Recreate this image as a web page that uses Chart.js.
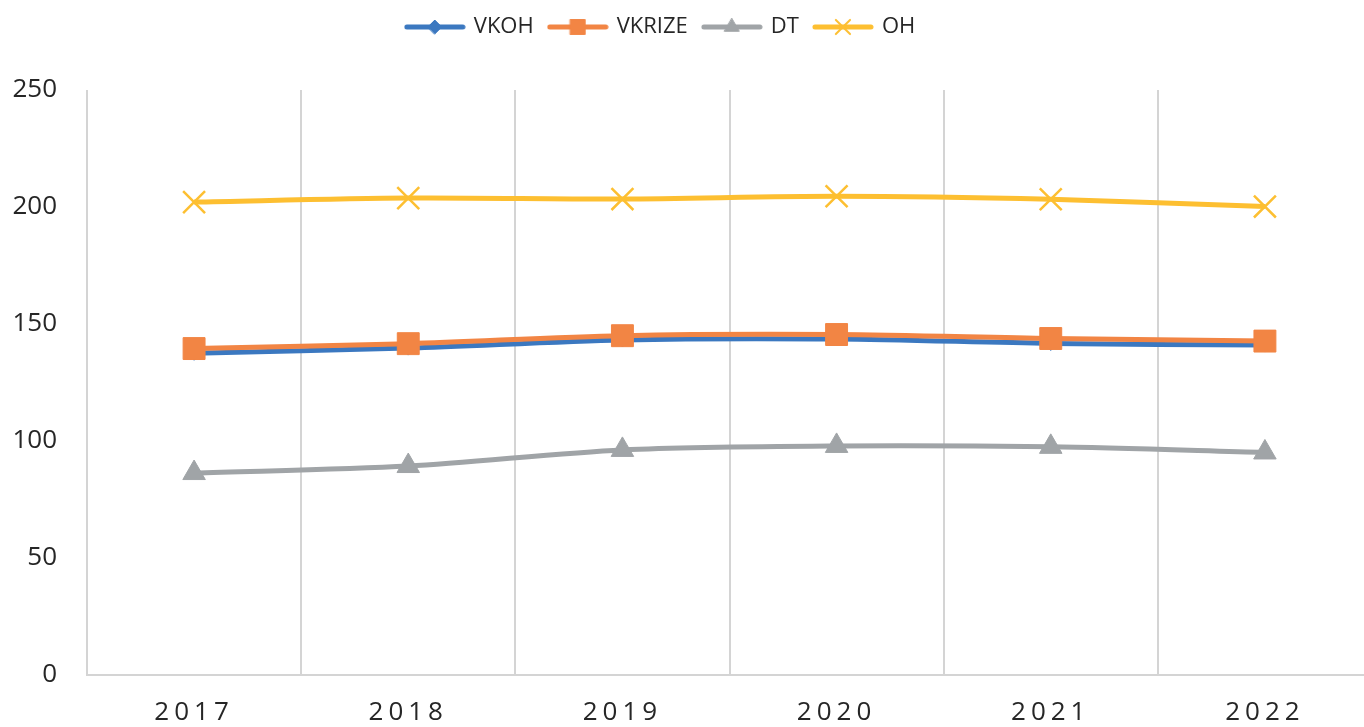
<!DOCTYPE html>
<html>
<head>
<meta charset="utf-8">
<script src="https://cdn.jsdelivr.net/npm/chart.js@4.4.1/dist/chart.umd.min.js"></script>
<style>
  body { margin: 0; background: #fff; overflow: hidden; }
  #wrap { width: 1364px; height: 727px; overflow: hidden; }
</style>
</head>
<body>
<div id="wrap"><canvas id="lineChart" width="1372" height="727"></canvas></div>
<script>
// Data
const years = ["2017", "2018", "2019", "2020", "2021", "2022"];
const vkoh = [137.5, 139.7, 143.2, 143.6, 141.7, 141.0];
const vkrize = [139.5, 141.6, 145.0, 145.5, 143.8, 142.7];
const dt = [86.3, 89.3, 96.2, 97.9, 97.5, 95.1];
const oh = [202.1, 203.8, 203.4, 204.6, 203.3, 200.2];
const yTicks = [0, 50, 100, 150, 200, 250];

const colors = {
    vkoh: "#3b78c0",
    vkrize: "#f28544",
    dt: "#a0a4a7",
    oh: "#fdbf31"
};
const gridColor = "#d4d4d4";

// legend icon: line with marker in the middle (like Excel)
function legendIcon(color, style, radius, markerBorder) {
    const c = document.createElement("canvas");
    c.width = 62;
    c.height = 24;
    const ctx = c.getContext("2d");
    ctx.strokeStyle = color;
    ctx.lineWidth = 5;
    ctx.lineCap = "round";
    ctx.beginPath();
    ctx.moveTo(3, 12);
    ctx.lineTo(59, 12);
    ctx.stroke();
    ctx.fillStyle = color;
    ctx.lineWidth = markerBorder;
    Chart.helpers.drawPoint(ctx, { pointStyle: style, radius: radius, rotation: 0, borderWidth: markerBorder }, 31, 12);
    return c;
}

// grow legend box so the plot starts lower, and pull it a bit to the left
const legendBox = {
    id: "legendBox",
    beforeInit(chart) {
        const fit = chart.legend.fit;
        chart.legend.fit = function () {
            fit.bind(chart.legend)();
            this.height = 90;
        };
    },
    afterLayout(chart) {
        chart.legend.right -= 50;
    }
};

// spaced-out year labels on the x axis
const spacedLabels = {
    id: "spacedLabels",
    beforeDraw(chart) {
        const xs = chart.scales.x;
        if (xs._spaced) return;
        const orig = xs.drawLabels.bind(xs);
        xs.drawLabels = function (area) {
            const ctx = chart.ctx;
            ctx.save();
            ctx.letterSpacing = "5px";
            orig(area);
            ctx.restore();
        };
        xs._spaced = true;
    }
};

const datasets = [
    {
        label: "VKOH",
        data: vkoh,
        borderColor: colors.vkoh,
        backgroundColor: colors.vkoh,
        pointStyle: "rectRot",
        pointRadius: 7,
        pointBorderWidth: 1,
        order: 1,
        icon: legendIcon(colors.vkoh, "rectRot", 7, 1)
    },
    {
        label: "VKRIZE",
        data: vkrize,
        borderColor: colors.vkrize,
        backgroundColor: colors.vkrize,
        pointStyle: "rect",
        pointRadius: 15.5,
        pointBorderWidth: 1,
        order: 0,
        icon: legendIcon(colors.vkrize, "rect", 10.5, 1)
    },
    {
        label: "DT",
        data: dt,
        borderColor: colors.dt,
        backgroundColor: colors.dt,
        pointStyle: "triangle",
        pointRadius: 13,
        pointBorderWidth: 1,
        order: 2,
        icon: legendIcon(colors.dt, "triangle", 8.5, 1)
    },
    {
        label: "OH",
        data: oh,
        borderColor: colors.oh,
        backgroundColor: colors.oh,
        pointStyle: "crossRot",
        pointRadius: 15.5,
        pointBorderWidth: 2.5,
        order: 3,
        icon: legendIcon(colors.oh, "crossRot", 10, 2)
    }
];

new Chart(document.getElementById("lineChart"), {
    type: "line",
    data: {
        labels: years,
        datasets: datasets.map(d => Object.assign({
            borderWidth: 5,
            tension: 0.3,
            fill: false,
            pointHoverRadius: d.pointRadius
        }, d))
    },
    plugins: [legendBox, spacedLabels],
    options: {
        responsive: false,
        animation: false,
        layout: { autoPadding: false, padding: 0 },
        plugins: {
            tooltip: { enabled: false },
            legend: {
                position: "top",
                labels: {
                    usePointStyle: true,
                    pointStyleWidth: 56,
                    padding: 16,
                    color: "#262626",
                    font: { family: "Open Sans", size: 22 },
                    generateLabels(chart) {
                        return chart.data.datasets.map((ds, i) => ({
                            text: ds.label,
                            fillStyle: ds.borderColor,
                            strokeStyle: ds.borderColor,
                            fontColor: "#262626",
                            lineWidth: 0,
                            pointStyle: ds.icon,
                            hidden: false,
                            datasetIndex: i
                        }));
                    }
                }
            }
        },
        scales: {
            x: {
                offset: true,
                grid: {
                    offset: true,
                    // no line on the far right edge
                    color: c => c.index >= years.length ? "rgba(0,0,0,0)" : gridColor,
                    lineWidth: 2,
                    drawTicks: false
                },
                border: { color: gridColor, width: 2 },
                ticks: {
                    color: "#262626",
                    padding: 22,
                    font: { family: "Open Sans", size: 26 }
                },
                afterFit(scale) {
                    scale.height = 52;
                    scale.paddingLeft = 0;
                    scale.paddingRight = 0;
                }
            },
            y: {
                min: 0,
                max: 250,
                afterBuildTicks(scale) {
                    scale.ticks = yTicks.map(v => ({ value: v }));
                },
                grid: { display: false, drawTicks: false },
                border: { display: false },
                ticks: {
                    color: "#262626",
                    padding: 30,
                    font: { family: "Open Sans", size: 26 }
                },
                afterFit(scale) { scale.width = 87; }
            }
        }
    }
});
</script>
</body>
</html>
